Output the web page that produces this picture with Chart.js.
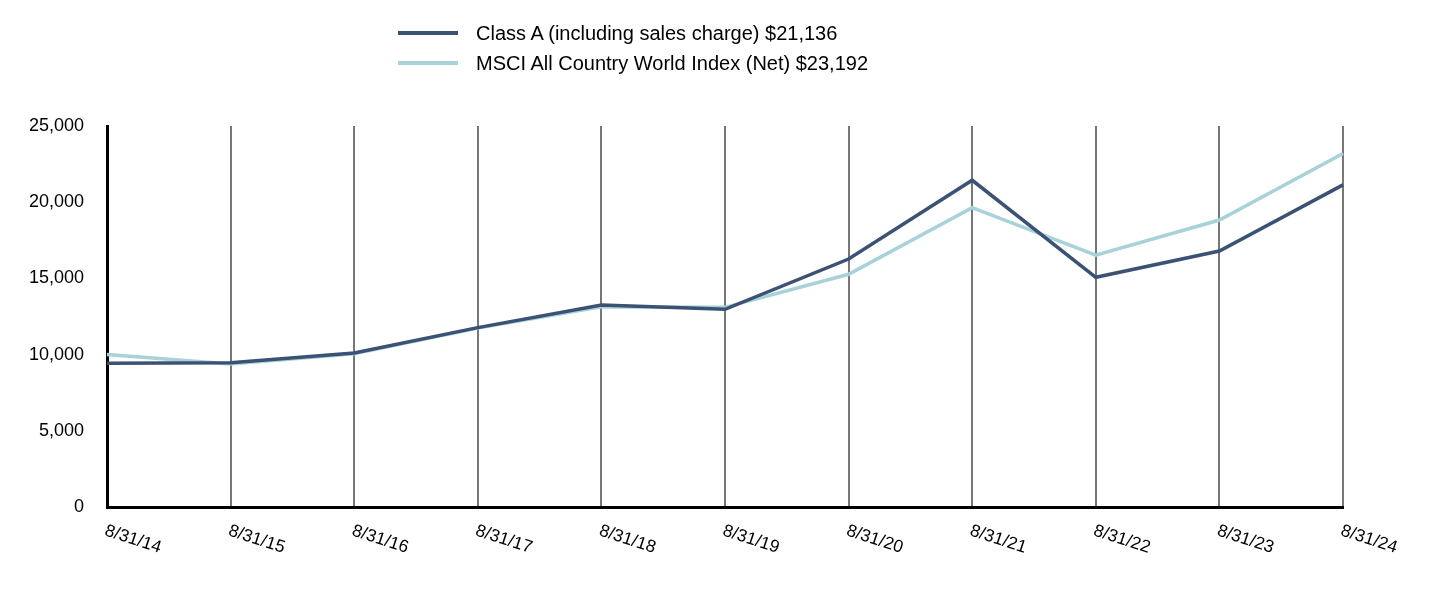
<!DOCTYPE html>
<html>
<head>
<meta charset="utf-8">
<script src="https://cdn.jsdelivr.net/npm/chart.js@4"></script>
<style>
  html, body { margin: 0; padding: 0; background: #fff; }
  #wrap { position: relative; width: 1432px; height: 596px; }
  #legend { position: absolute; left: 398px; top: 18px; font-family: "Liberation Sans", Arial, sans-serif; font-size: 20px; color: #000; }
  .item { display: flex; align-items: center; height: 30px; }
  .swatch { width: 60px; height: 4px; margin-right: 18px; }
</style>
</head>
<body>
<div id="wrap">
  <canvas id="chart" width="1432" height="596"></canvas>
  <div id="legend"></div>
</div>
<script>
const dates = ['8/31/14', '8/31/15', '8/31/16', '8/31/17', '8/31/18', '8/31/19', '8/31/20', '8/31/21', '8/31/22', '8/31/23', '8/31/24'];
const classA = [9425, 9460, 10100, 11770, 13250, 12970, 16270, 21440, 15070, 16800, 21136];
const msciAcwi = [10000, 9390, 10060, 11750, 13140, 13100, 15270, 19640, 16530, 18830, 23192];
const seriesNames = ['Class A (including sales charge) $21,136', 'MSCI All Country World Index (Net) $23,192'];
const seriesColors = ['#3b5275', '#a7d2d7'];

const FONT = '"Liberation Sans", Arial, sans-serif';

// slanted date labels, drawn from the x scale's own tick positions
const slantedLabels = {
    id: 'slantedLabels',
    afterDraw(chart) {
        const ctx = chart.ctx;
        const x = chart.scales.x;
        ctx.save();
        ctx.font = '17.5px ' + FONT;
        ctx.fillStyle = '#000';
        ctx.textAlign = 'left';
        ctx.textBaseline = 'top';
        dates.forEach((d, i) => {
            const px = x.getPixelForTick(i);
            ctx.save();
            ctx.translate(px + 1, chart.chartArea.bottom + 15);
            ctx.rotate(18 * Math.PI / 180);
            ctx.fillText(d, 0, 0);
            ctx.restore();
        });
        ctx.restore();
    }
};

const chart = new Chart(document.getElementById('chart'), {
    type: 'line',
    data: {
        labels: dates,
        datasets: [
            { label: seriesNames[0], data: classA, borderColor: seriesColors[0], borderWidth: 3.5 },
            { label: seriesNames[1], data: msciAcwi, borderColor: seriesColors[1], borderWidth: 3.5 }
        ]
    },
    options: {
        responsive: false,
        animation: false,
        layout: { padding: { top: 126, right: 89, left: 0, bottom: 0 } },
        elements: { point: { radius: 0 }, line: { tension: 0 } },
        plugins: { legend: { display: false }, tooltip: { enabled: false } },
        scales: {
            x: {
                offset: false,
                grid: { color: '#777', lineWidth: 2, drawTicks: false },
                border: { color: '#000', width: 3 },
                ticks: { display: false },
                afterFit(scale) { scale.height = 89; }
            },
            y: {
                min: 0,
                max: 25000,
                grid: { display: false, drawTicks: false },
                border: { color: '#000', width: 3 },
                ticks: {
                    stepSize: 5000,
                    padding: 23,
                    color: '#000',
                    font: { family: FONT, size: 18 },
                    callback: v => v.toLocaleString('en-US')
                },
                afterFit(scale) { scale.width = 107; }
            }
        }
    },
    plugins: [slantedLabels]
});

const legend = document.getElementById('legend');
seriesNames.forEach((name, i) => {
    const item = document.createElement('div');
    item.className = 'item';
    item.innerHTML = `<span class="swatch" style="background:${seriesColors[i]}"></span><span>${name}</span>`;
    legend.appendChild(item);
});
</script>
</body>
</html>
